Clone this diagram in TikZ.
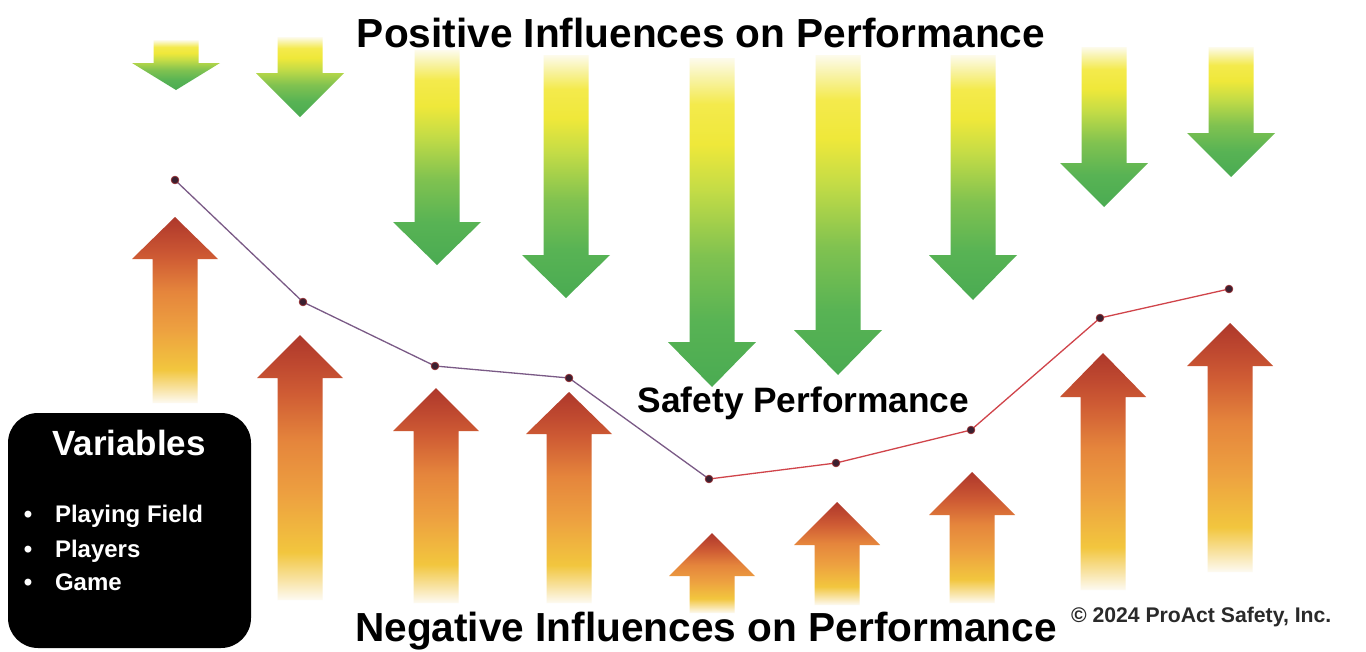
\documentclass[tikz,border=0pt]{standalone}
\usepackage{fontspec}
\setmainfont{Liberation Sans}
\definecolor{gA}{HTML}{4AAB52}
\definecolor{gB}{HTML}{58B354}
\definecolor{gC}{HTML}{80C250}
\definecolor{gD}{HTML}{C4DC46}
\definecolor{gE}{HTML}{EFE83A}
\definecolor{gF}{HTML}{F4EA4C}
\definecolor{gG}{HTML}{F8F3A8}
\definecolor{gH}{HTML}{FDFBEC}
\definecolor{rA}{HTML}{FDFAF2}
\definecolor{rB}{HTML}{F8E2A0}
\definecolor{rC}{HTML}{F2C63E}
\definecolor{rD}{HTML}{EDA040}
\definecolor{rE}{HTML}{E5853C}
\definecolor{rF}{HTML}{CF5C34}
\definecolor{rG}{HTML}{C04A30}
\definecolor{rH}{HTML}{AE382B}
\definecolor{lineP}{HTML}{7A5A86}
\definecolor{lineR}{HTML}{D0444A}
\definecolor{dotC}{HTML}{3A2030}
\definecolor{copyC}{HTML}{2A2A2A}
\pgfdeclareverticalshading{posshade}{100bp}{color(0bp)=(gA); color(25bp)=(gA); color(35bp)=(gB); color(45bp)=(gC); color(55bp)=(gD); color(62bp)=(gE); color(68bp)=(gF); color(72bp)=(gG); color(75bp)=(gH); color(100bp)=(gH)}
\pgfdeclareverticalshading{negshade}{100bp}{color(0bp)=(rA); color(25bp)=(rA); color(29bp)=(rB); color(34bp)=(rC); color(45bp)=(rD); color(55bp)=(rE); color(64bp)=(rF); color(69bp)=(rG); color(75bp)=(rH); color(100bp)=(rH)}
% down arrow: cx, top, head base, tip
\newcommand\pdArrow[4]{%
  \shade[shading=posshade] (#1-22.5,#2) -- (#1+22.5,#2) -- (#1+22.5,#3) -- (#1+44,#3) -- (#1,#4) -- (#1-44,#3) -- (#1-22.5,#3) -- cycle;}
% up arrow: cx, tip, head base, bottom
\newcommand\nuArrow[4]{%
  \shade[shading=negshade] (#1,#2) -- (#1+43,#3) -- (#1+22.5,#3) -- (#1+22.5,#4) -- (#1-22.5,#4) -- (#1-22.5,#3) -- (#1-43,#3) -- cycle;}
\newcommand\tkTitleFont{\fontsize{40.6}{48}\selectfont\bfseries}
\newcommand\tkSafeFont{\fontsize{35.3}{42}\selectfont\bfseries}
\newcommand\tkVarFont{\fontsize{35}{42}\selectfont\bfseries}
\newcommand\tkItemFont{\fontsize{24}{28}\selectfont\bfseries}
\newcommand\tkCopyFont{\fontsize{21.2}{24}\selectfont\bfseries}
\tikzset{
  txt/.style={inner sep=0pt, outer sep=0pt},
  pline/.style={draw=lineP, line width=1.3pt},
  rline/.style={draw=lineR, line width=1.3pt},
  dot/.style={fill=dotC, draw=lineR!70!black, line width=0.8pt},
  vbox/.style={fill=black, rounded corners=30pt, minimum width=243pt, minimum height=235pt, inner sep=0pt}
}
\begin{document}
\begin{tikzpicture}[x=1pt,y=-1pt]
\useasboundingbox (0,0) rectangle (1366,651);
\clip (0,0) rectangle (1366,651);
\fill[white] (0,0) rectangle (1366,651);
% positive (down) arrows
\pdArrow{176}{40}{63}{90}
\pdArrow{300}{37}{73}{117}
\pdArrow{437}{50}{222}{265}
\pdArrow{566}{55}{255}{298}
\pdArrow{712}{58}{342}{387}
\pdArrow{838}{55}{330}{375}
\pdArrow{973}{55}{255}{300}
\pdArrow{1104}{47}{163}{207}
\pdArrow{1231}{47}{133}{177}
% negative (up) arrows
\nuArrow{175}{217}{259}{403}
\nuArrow{300}{335}{378}{600}
\nuArrow{436}{388}{431}{603}
\nuArrow{569}{392}{434}{603}
\nuArrow{712}{533}{576}{613}
\nuArrow{837}{502}{545}{605}
\nuArrow{972}{472}{515}{603}
\nuArrow{1103}{353}{397}{590}
\nuArrow{1230}{323}{366}{572}
% performance line
\coordinate (p1) at (175,180);
\coordinate (p2) at (303,302);
\coordinate (p3) at (435,366);
\coordinate (p4) at (569,378);
\coordinate (p5) at (709,479);
\coordinate (p6) at (836,463);
\coordinate (p7) at (971,430);
\coordinate (p8) at (1100,318);
\coordinate (p9) at (1229,289);
\draw[pline] (p1) -- (p2) -- (p3) -- (p4) -- (p5);
\draw[rline] (p5) -- (p6) -- (p7) -- (p8) -- (p9);
\foreach \i in {1,...,9} \filldraw[dot] (p\i) circle (3.8pt);
% texts
\node[txt, anchor=base, font=\tkTitleFont] (ptitle) at (701,47) {Positive Influences on Performance};
\node[txt, anchor=base, font=\tkTitleFont] (ntitle) at (706,641) {Negative Influences on Performance};
\node[txt, anchor=base, font=\tkSafeFont] (safety) at (803.5,412) {Safety Performance};
\node[txt, anchor=base west, font=\tkCopyFont, text=copyC] (copy) at (1071,622) {© 2024 ProAct Safety, Inc.};
% variables box
\node[vbox] (var) at (129.5,530.5) {};
\node[txt, anchor=base, font=\tkVarFont, text=white] (vtitle) at (129,455) {Variables};
\node[txt, anchor=base west, font=\tkItemFont, text=white] (i1) at (55,522) {Playing Field};
\node[txt, anchor=base west, font=\tkItemFont, text=white] (i2) at (55,557) {Players};
\node[txt, anchor=base west, font=\tkItemFont, text=white] (i3) at (55,590) {Game};
\node[txt, anchor=base, font=\tkItemFont, text=white] (b1) at (28,522) {•};
\node[txt, anchor=base, font=\tkItemFont, text=white] (b2) at (28,557) {•};
\node[txt, anchor=base, font=\tkItemFont, text=white] (b3) at (28,590) {•};
\end{tikzpicture}
\end{document}
